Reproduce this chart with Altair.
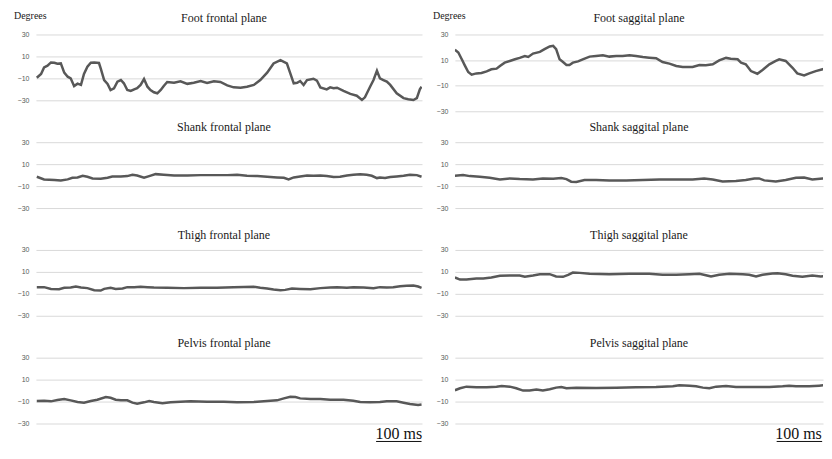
import altair as alt
import pandas as pd

# ---------------- data (time in ms, angle in degrees) ----------------
foot_frontal_t = [2, 12, 19, 27, 35, 43, 50, 58, 66, 74, 81, 89, 97, 105, 112, 120, 128, 136, 147, 151,
                  159, 167, 174, 182, 190, 198, 205, 213, 221, 229, 236, 244, 252, 260, 267, 275, 283, 291,
                  298, 306, 322, 337, 353, 368, 384, 399, 415, 430, 446, 461, 477, 492, 508, 523, 539, 554,
                  570, 585, 593, 601, 609, 616, 624, 632, 647, 655, 663, 678, 686, 694, 702, 717, 733, 748,
                  760, 767, 779, 787, 795, 802, 810, 818, 826, 841, 857, 868, 880, 888, 895, 899]
foot_frontal_v = [-9.4, -6, 0, 1.5, 4.5, 4.2, 3.3, 3.6, -4.8, -8.5, -10, -17, -14.8, -16, -6, 0.6, 4.2, 4.5, 4, -0.9,
                  -11.5, -15, -20.6, -19, -13, -11.5, -14.5, -20.6, -21.5, -20, -19, -16, -10.6, -17.6, -20.6, -22.7, -23.6, -20.6,
                  -17, -13.3, -14, -12.7, -15, -14, -12.4, -14.2, -12.7, -13.3, -16.4, -18.2, -18.5, -17.6, -16, -11.5, -4.8, 3.6,
                  6.7, 3.6, -5.5, -14.5, -14, -12.4, -16, -11.5, -10.3, -12, -18.2, -20, -18.2, -19, -18.5, -21.5, -24.2, -25.8,
                  -29.7, -27.3, -17.6, -11.5, -3, -10, -11.5, -13, -16, -23.6, -28, -29, -29.7, -28, -20, -17.6]

shank_frontal_t = [2, 19, 43, 58, 74, 85, 97, 109, 120, 132, 151, 167, 178, 198, 213, 225, 236, 252, 264, 279,
                   298, 322, 353, 384, 415, 446, 469, 492, 516, 539, 562, 578, 589, 601, 616, 632, 647, 663,
                   678, 694, 709, 725, 740, 756, 771, 783, 795, 802, 814, 826, 841, 857, 872, 888, 899]
shank_frontal_v = [-1.5, -3.9, -4.5, -4.8, -3.9, -2.4, -2.1, -0.6, -1.5, -3, -3.3, -2.4, -1.2, -1.2, -0.9, 0.3, -0.3, -2.4, -0.9, 0.9,
                   0.3, -0.3, -0.3, 0, 0, 0, 0.3, -0.6, -0.9, -1.5, -2.1, -2.4, -3.9, -2.1, -1.2, -0.3, -0.6, -0.3,
                   -0.9, -1.8, -1.5, -0.3, 0.3, 0.9, 0.3, -0.6, -2.7, -2.1, -2.7, -1.8, -1.2, -0.6, 0.3, 0, -1.5]

thigh_frontal_t = [2, 19, 35, 54, 66, 81, 93, 105, 120, 136, 151, 159, 174, 186, 202, 213, 229, 244, 260, 275,
                   306, 345, 384, 422, 461, 508, 523, 539, 554, 570, 581, 597, 616, 640, 663, 686, 702, 725,
                   740, 764, 787, 802, 818, 833, 849, 864, 880, 891, 899]
thigh_frontal_v = [-3.9, -3.9, -5.5, -5.8, -4.5, -4.2, -3.3, -4.2, -4.8, -6.7, -7, -5.5, -4.5, -5.5, -5.2, -3.9, -3.9, -3.6, -3.9, -4.2,
                   -4.5, -4.8, -4.5, -4.5, -3.9, -3.6, -4.5, -5.2, -6.1, -6.7, -6.4, -5.2, -5.5, -5.8, -4.8, -4.2, -3.9, -4.5,
                   -3.9, -4.2, -4.8, -3.9, -4.2, -3.9, -3, -2.7, -2.4, -3.3, -4.5]

pelvis_frontal_t = [2, 19, 35, 50, 66, 81, 97, 112, 128, 143, 163, 174, 186, 198, 213, 225, 236, 252, 264, 275,
                    295, 314, 337, 360, 399, 438, 469, 508, 539, 562, 578, 593, 605, 616, 640, 663, 686, 717,
                    740, 756, 779, 802, 818, 841, 857, 872, 891, 899]
pelvis_frontal_v = [-9.5, -9.2, -9.8, -8.6, -7.7, -8.9, -10.4, -11, -9.5, -8.3, -5.9, -6.5, -8.3, -8.9, -8.9, -11, -11.9, -10.7, -9.5, -10.4,
                    -11.6, -10.7, -10.1, -9.8, -10.1, -10.1, -10.7, -10.4, -9.5, -8.9, -7.1, -5.6, -5.9, -7.1, -7.7, -7.7, -8.3, -8.3,
                    -9.2, -10.4, -10.7, -10.4, -9.8, -9.8, -11, -12.2, -13.1, -12.7]

foot_sagittal_t = [0, 8, 16, 23, 31, 39, 50, 62, 74, 85, 97, 105, 116, 128, 140, 151, 163, 171, 182, 198,
                   209, 221, 229, 236, 244, 252, 260, 267, 275, 287, 298, 314, 329, 345, 360, 376, 391, 407,
                   422, 438, 453, 469, 484, 500, 516, 531, 554, 570, 585, 601, 616, 632, 643, 659, 667, 678,
                   690, 705, 717, 733, 748, 756, 771, 787, 798, 814, 826, 841, 857, 874]
foot_sagittal_v = [18, 15.9, 10.6, 5.9, 0.7, -1.4, -0.4, -0.1, 1.2, 2.8, 3.3, 5.4, 8, 9.3, 10.6, 11.7, 13.2, 12.4, 15.1, 16.4,
                   18.5, 20.6, 21.1, 18.5, 10.6, 8.5, 6.2, 6.2, 8, 9, 10.6, 12.7, 13.2, 13.8, 12.7, 13.2, 13.2, 13.8,
                   13.2, 12.4, 11.9, 11.4, 8.5, 7.2, 5.4, 4.6, 4.6, 6.2, 5.9, 6.7, 9.8, 11.7, 11.1, 10.6, 8, 6.7,
                   1.4, -0.7, 2.2, 6.7, 9.3, 10.6, 9.3, 4, -0.4, -2, -0.4, 1.4, 2.8, 5.4]

shank_sagittal_t = [0, 19, 35, 58, 81, 105, 128, 151, 182, 205, 229, 248, 260, 271, 283, 302, 329, 360, 399, 438,
                    477, 516, 554, 581, 601, 624, 655, 678, 698, 709, 721, 748, 771, 795, 814, 833, 857, 876]
shank_sagittal_v = [-0.6, 0, -0.9, -1.5, -2.4, -3.9, -3, -3.6, -3.9, -3, -3.3, -2.7, -3.6, -6, -6.3, -4.5, -4.5, -4.8, -4.8, -4.5,
                    -3.9, -3.9, -3.9, -3, -3.9, -5.7, -5.4, -4.5, -3, -3, -4.8, -5.7, -4.5, -2.4, -2.1, -3.9, -3, -3.9]

thigh_sagittal_t = [0, 12, 27, 50, 66, 85, 105, 128, 151, 163, 182, 198, 221, 236, 252, 264, 275, 291, 314, 360,
                    407, 453, 484, 516, 547, 570, 585, 597, 616, 640, 671, 686, 702, 717, 740, 752, 771, 787,
                    810, 833, 853, 876]
thigh_sagittal_v = [4.9, 3, 3, 3.9, 3.9, 4.9, 6.4, 6.7, 6.7, 5.5, 6.7, 7.9, 7.9, 5.8, 5.5, 7.3, 9.4, 9.1, 8.2, 7.9,
                    8.2, 8.2, 7.3, 7.3, 7.9, 8.2, 7, 5.8, 7.3, 8.2, 7.9, 7.3, 5.8, 7.3, 8.5, 8.8, 7.9, 6.4,
                    5.5, 6.7, 5.8, 6.4]

pelvis_sagittal_t = [0, 12, 27, 50, 74, 97, 109, 128, 143, 159, 174, 190, 205, 221, 236, 248, 260, 283, 329, 376,
                     422, 469, 508, 523, 547, 562, 578, 593, 609, 632, 655, 686, 733, 764, 779, 795, 826, 849, 876]
pelvis_sagittal_v = [0.3, 2.1, 3.6, 3, 3, 3.6, 4.2, 3.6, 2.1, 0, 0, 0.9, 0, 1.2, 2.7, 3.3, 2.1, 2.7, 2.4, 2.7,
                     3, 3.3, 3.9, 4.8, 4.5, 3.9, 2.7, 2.1, 3.6, 4.2, 3.3, 3.3, 3.3, 3.9, 4.5, 3.9, 3.9, 4.5, 5.4]

y_ticks = [-30, -10, 10, 30]
# scale bar: start, end, label position (ms)
scalebar_left = [793, 899, 846]
scalebar_right = [750, 856, 801]
scalebar_label = "100 ms"

# ---------------- styling ----------------
LINE = "#585858"
SERIF = "Liberation Serif"
H = 77          # every panel's plot area height
LW, RW = 387, 369
LMAX, RMAX = 900, 858


def panel(t, v, title, width, xmax, ydomain, degrees=False, scalebar=None):
    df = pd.DataFrame({"t": t, "v": v})
    axis_kw = dict(values=y_ticks, grid=True, gridColor="#d9d9d9", gridWidth=1, domain=False,
                   ticks=False, tickSize=0, labelFontSize=7, labelColor="#595959", labelPadding=7,
                   labelFont="Liberation Sans", title=None)
    xs = alt.Scale(domain=[0, xmax], nice=False, zero=False)
    line = alt.Chart(df).mark_line(color=LINE, strokeWidth=2.5, clip=True).encode(
        x=alt.X("t:Q", scale=xs, axis=None),
        y=alt.Y("v:Q", scale=alt.Scale(domain=ydomain, nice=False), axis=alt.Axis(**axis_kw)),
    )
    layers = [line]
    if degrees:
        deg = alt.Chart(pd.DataFrame({"lab": ["Degrees"]})).mark_text(
            font=SERIF, fontSize=10, color="#1a1a1a", align="left", baseline="middle").encode(
            x=alt.value(-22), y=alt.value(-18.5), text="lab:N")
        layers.append(deg)
    if scalebar is not None:
        sb = pd.DataFrame({"a": [scalebar[0]], "b": [scalebar[1]],
                           "c": [scalebar[2]], "lab": [scalebar_label]})
        rule = alt.Chart(sb).mark_rule(color="#111", strokeWidth=1).encode(
            x=alt.X("a:Q", scale=xs, axis=None), x2="b:Q", y=alt.value(84))
        txt = alt.Chart(sb).mark_text(font=SERIF, fontSize=16, color="#111",
                                      baseline="alphabetic", align="center").encode(
            x=alt.X("c:Q", scale=xs, axis=None), y=alt.value(81.5), text="lab:N")
        layers += [rule, txt]
    return alt.layer(*layers).properties(
        width=width, height=H,
        title=alt.Title(title, font=SERIF, fontSize=12, fontWeight="normal", color="#1a1a1a",
                        offset=-14.5 if degrees else 4, dx=-5 if xmax == LMAX else 0),
    )


FULL = [-30, 30]
SHORT = [-40, 30]   # -30..30 occupies the top 66 px of the 77 px panel

panels = [
    panel(foot_frontal_t, foot_frontal_v, "Foot frontal plane", LW, LMAX, SHORT, degrees=True),
    panel(foot_sagittal_t, foot_sagittal_v, "Foot saggital plane", RW, RMAX, FULL, degrees=True),
    panel(shank_frontal_t, shank_frontal_v, "Shank frontal plane", LW, LMAX, SHORT),
    panel(shank_sagittal_t, shank_sagittal_v, "Shank saggital plane", RW, RMAX, SHORT),
    panel(thigh_frontal_t, thigh_frontal_v, "Thigh frontal plane", LW, LMAX, SHORT),
    panel(thigh_sagittal_t, thigh_sagittal_v, "Thigh saggital plane", RW, RMAX, SHORT),
    panel(pelvis_frontal_t, pelvis_frontal_v, "Pelvis frontal plane", LW, LMAX, SHORT, scalebar=scalebar_left),
    panel(pelvis_sagittal_t, pelvis_sagittal_v, "Pelvis saggital plane", RW, RMAX, SHORT, scalebar=scalebar_right),
]

chart = alt.concat(*panels, columns=2, spacing={"row": 31, "column": 33}, bounds="flush").properties(
    padding={"left": 5, "top": 2, "right": 0, "bottom": 0},
    background="white",
).configure_view(stroke="transparent")

chart.save("out.html", embed_options={"renderer": "svg", "actions": False})
